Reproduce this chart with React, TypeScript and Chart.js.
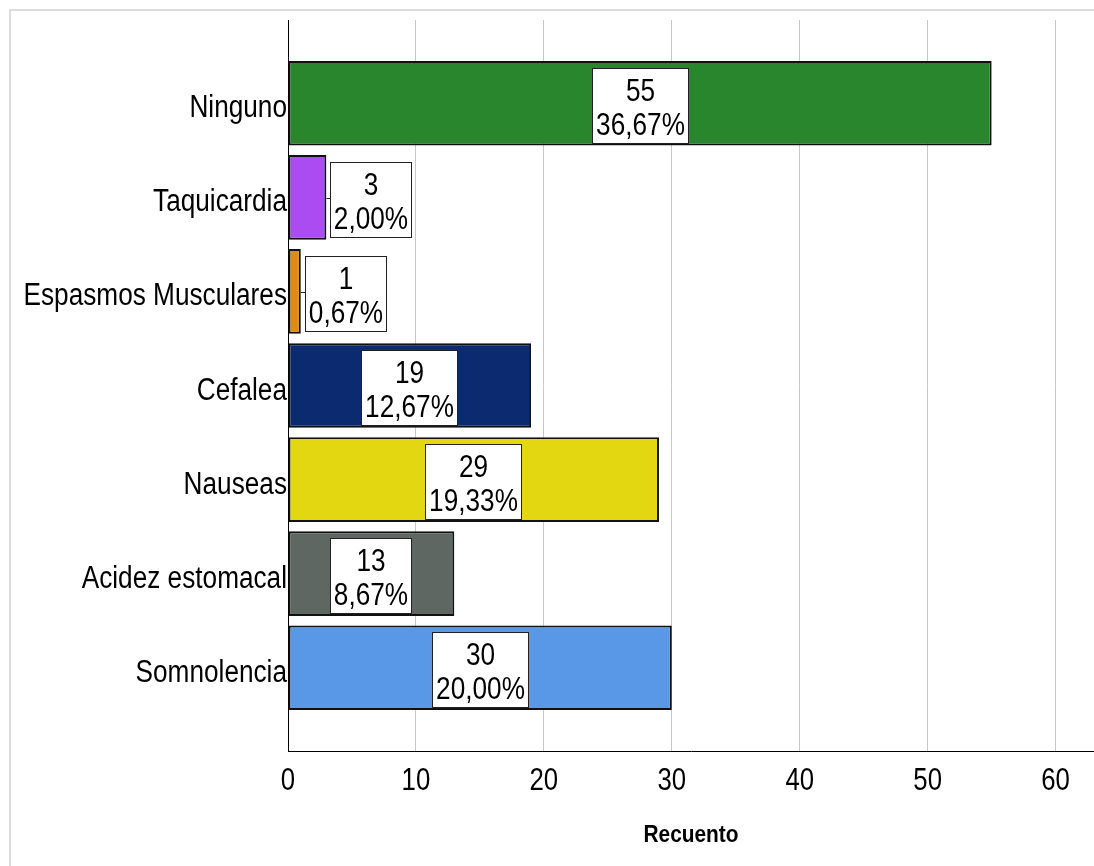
import React, { useEffect, useRef } from "react";
import { Chart, registerables } from "chart.js";

Chart.register(...registerables);

// Side effects reported, one bar per category
const categories = [
  "Ninguno",
  "Taquicardia",
  "Espasmos Musculares",
  "Cefalea",
  "Nauseas",
  "Acidez estomacal",
  "Somnolencia",
];
const counts = [55, 3, 1, 19, 29, 13, 30];
const barColors = ["#2a862c", "#ab4cf2", "#e08c14", "#0c2a70", "#e3d712", "#5e6761", "#5898e6"];
const xTicks = [0, 10, 20, 30, 40, 50, 60];
const axisTitle = "Recuento";

const WIDTH = 1094;
const HEIGHT = 866;
const FAMILY = '"Liberation Sans", Arial, sans-serif';
// Horizontal squeeze that turns the regular face into a narrow one
const NARROW = 0.845;
const NARROW_BOLD = 0.87;

function narrowText(
  ctx: CanvasRenderingContext2D,
  text: string,
  x: number,
  y: number,
  align: CanvasTextAlign,
  size: number,
  bold = false
) {
  ctx.save();
  ctx.font = `${bold ? "bold " : ""}${size}px ${FAMILY}`;
  ctx.textAlign = align;
  ctx.textBaseline = "alphabetic";
  ctx.fillStyle = "#000";
  ctx.translate(x, y);
  ctx.scale(bold ? NARROW_BOLD : NARROW, 1);
  ctx.fillText(text, 0, 0);
  ctx.restore();
}

function narrowWidth(ctx: CanvasRenderingContext2D, text: string, size: number) {
  ctx.save();
  ctx.font = `${size}px ${FAMILY}`;
  const w = ctx.measureText(text).width * NARROW;
  ctx.restore();
  return w;
}

// Light frame along the top and left edges
const frame = {
  id: "frame",
  beforeDraw(chart: any) {
    const ctx = chart.ctx;
    ctx.save();
    ctx.strokeStyle = "#dcdcdc";
    ctx.lineWidth = 2;
    ctx.beginPath();
    ctx.moveTo(10, HEIGHT);
    ctx.lineTo(10, 10);
    ctx.lineTo(WIDTH, 10);
    ctx.stroke();
    ctx.restore();
  },
};

// Category names, tick numbers and axis title in a narrow face
const axisText = {
  id: "axisText",
  afterDraw(chart: any) {
    const ctx = chart.ctx;
    const xs = chart.scales.x;
    const ys = chart.scales.y;
    const area = chart.chartArea;
    categories.forEach((name, i) => {
      narrowText(ctx, name, area.left - 1, ys.getPixelForValue(i) + 14, "right", 31);
    });
    xTicks.forEach((v) => {
      narrowText(ctx, String(v), xs.getPixelForValue(v), 790, "center", 30.5);
    });
    narrowText(ctx, axisTitle, (area.left + area.right) / 2, 842, "center", 24, true);
  },
};

// White boxes with count and percentage for each bar
const valueBoxes = {
  id: "valueBoxes",
  afterDatasetsDraw(chart: any) {
    const ctx = chart.ctx;
    const meta = chart.getDatasetMeta(0);
    const total = counts.reduce((a, b) => a + b, 0);
    const size = 31;
    meta.data.forEach((bar: any, i: number) => {
      const v = counts[i];
      const lines = [String(v), (v / total * 100).toFixed(2).replace(".", ",") + "%"];
      const tw = Math.max(...lines.map((l) => narrowWidth(ctx, l, size)));
      const w = Math.round(tw + 8);
      const h = 76;
      const { x, y, base } = bar.getProps(["x", "y", "base"], true);
      const len = x - base;
      let left: number;
      let leader = false;
      if (len > w + 10) {
        left = Math.round(base + len / 2 - w / 2);
      } else {
        left = Math.round(x + 4);
        leader = true;
      }
      const top = Math.round(y - h / 2 + 2.5);
      ctx.save();
      if (leader) {
        ctx.strokeStyle = "#222";
        ctx.lineWidth = 1;
        ctx.beginPath();
        ctx.moveTo(x, Math.round(y) + 1.5);
        ctx.lineTo(left, Math.round(y) + 1.5);
        ctx.stroke();
      }
      ctx.fillStyle = "#ffffff";
      ctx.fillRect(left, top, w, h);
      ctx.strokeStyle = "#222";
      ctx.lineWidth = 1;
      ctx.strokeRect(left + 0.5, top + 0.5, w - 1, h - 1);
      ctx.restore();
      const cx = left + w / 2;
      narrowText(ctx, lines[0], cx, top + 33, "center", size);
      narrowText(ctx, lines[1], cx, top + 67, "center", size);
    });
  },
};

export default function App() {
  const canvasRef = useRef<HTMLCanvasElement | null>(null);

  useEffect(() => {
    const canvas = canvasRef.current;
    if (!canvas) return;
    const chart = new Chart(canvas, {
      type: "bar",
      data: {
        datasets: [
          {
            data: counts.map((v, i) => ({ x: v, y: i })),
            backgroundColor: barColors,
            borderColor: "#111",
            borderWidth: 2,
            borderSkipped: false,
            barPercentage: 0.9,
            categoryPercentage: 1,
          },
        ],
      },
      options: {
        indexAxis: "y",
        responsive: false,
        animation: false,
        devicePixelRatio: 1,
        layout: { padding: { top: 20, right: 0, bottom: 0, left: 0 } },
        plugins: {
          legend: { display: false },
          tooltip: { enabled: false },
        },
        scales: {
          x: {
            type: "linear",
            position: "bottom",
            min: 0,
            max: 63,
            afterBuildTicks: (s: any) => {
              s.ticks = xTicks.map((v) => ({ value: v }));
            },
            afterFit: (s: any) => {
              s.height = HEIGHT - 751;
            },
            grid: {
              color: (c: any) => (c.tick && c.tick.value === 0 ? "rgba(0,0,0,0)" : "#c8c8c8"),
              drawTicks: false,
              lineWidth: 1,
            },
            border: { color: "#000", width: 1 },
            ticks: { display: false },
            title: { display: false },
          },
          y: {
            type: "linear",
            position: "left",
            reverse: true,
            offset: false,
            min: -0.885,
            max: 6.885,
            afterBuildTicks: (s: any) => {
              s.ticks = categories.map((_, i) => ({ value: i }));
            },
            afterFit: (s: any) => {
              s.width = 288;
            },
            grid: { display: false, drawTicks: false, offset: false },
            border: { display: true, color: "#000", width: 1 },
            ticks: { display: false },
          },
        },
      } as any,
      plugins: [frame, valueBoxes, axisText],
    });
    return () => chart.destroy();
  }, []);

  return (
    <div style={{ position: "absolute", left: 0, top: 0, width: WIDTH, height: HEIGHT, background: "#fff" }}>
      <canvas ref={canvasRef} width={WIDTH} height={HEIGHT} style={{ display: "block" }} />
    </div>
  );
}
